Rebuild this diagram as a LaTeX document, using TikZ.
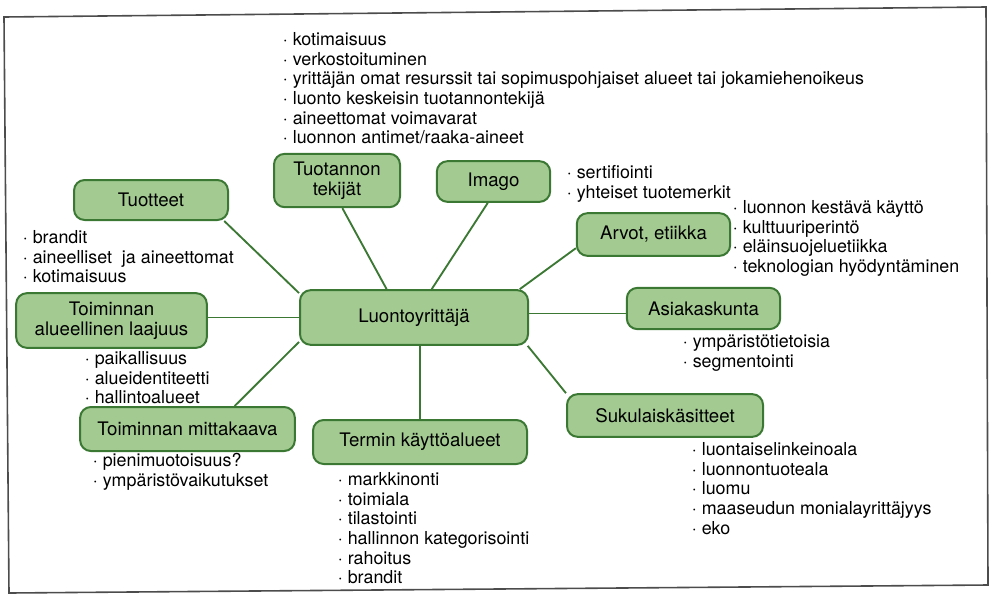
\documentclass[tikz,border=0pt]{standalone}
\usepackage{fontspec}
\setmainfont{TeX Gyre Heros}
\definecolor{leaf}{HTML}{A3CB91}
\definecolor{stem}{HTML}{3B7833}
\begin{document}
\begin{tikzpicture}[x=0.75pt,y=-0.75pt,
        box/.style={draw=stem,line width=1.5pt,fill=leaf,rounded corners=8pt,
            align=center,inner sep=2pt,font=\fontsize{14}{15}\selectfont},
        info/.style={anchor=north west,align=left,inner sep=0pt,
            font=\fontsize{13.4}{14.8}\selectfont},
        link/.style={draw=stem,line width=1.4pt}]
                \useasboundingbox
                    (0,0) rectangle (992,593);
                \draw[line width=1.2pt,black!70]
                    (4,17) -- (986,7) -- (988,585) -- (9,593) -- cycle;
                % the centre and its branches
                \node[box,minimum width=171pt,minimum height=41pt] (luonto)
                    at (414,317.5) {Luontoyrittäjä};
                \node[box,minimum width=115.5pt,minimum height=30pt] (tuotteet)
                    at (151,200) {Tuotteet};
                \node[box,minimum width=94.5pt,minimum height=40pt] (tekijat)
                    at (337,180.5) {Tuotannon\\tekijät};
                \node[box,minimum width=85pt,minimum height=30.5pt] (imago)
                    at (493.5,181.5) {Imago};
                \node[box,minimum width=115pt,minimum height=32pt] (arvot)
                    at (653.5,234.5) {Arvot, etiikka};
                \node[box,minimum width=115pt,minimum height=31pt] (asiakas)
                    at (703.5,308.5) {Asiakaskunta};
                \node[box,minimum width=147pt,minimum height=32pt] (sukulais)
                    at (665,415.5) {Sukulaiskäsitteet};
                \node[box,minimum width=160.5pt,minimum height=33pt] (termin)
                    at (420,442) {Termin käyttöalueet};
                \node[box,minimum width=161pt,minimum height=33pt] (mittakaava)
                    at (187.5,429) {Toiminnan mittakaava};
                \node[box,minimum width=143pt,minimum height=41pt] (laajuus)
                    at (111.5,320.5) {Toiminnan\\alueellinen laajuus};
                % connectors
                \draw[link] (tuotteet.-16) -- (luonto.168);
                \draw[link] (tekijat.-79) -- (luonto.134.5);
                \draw[link] (imago.-105) -- (luonto.58.3);
                \draw[link] (arvot.190) -- (luonto.15);
                \draw[link] (luonto.2.5) -- (luonto.2.5 -| asiakas.west);
                \draw[link] (sukulais.north west) -- (luonto.-14);
                \draw[link] (termin.north |- luonto.south) -- (termin.north);
                \draw[link] (mittakaava.26) -- (luonto.192.3);
                \draw[link] (luonto.west) -- (luonto.west -| laajuus.east);
                % lists
                \node[info] (tekijatlist) at (282.6,32)
                    {· kotimaisuus\\· verkostoituminen\\
                    · yrittäjän omat resurssit tai sopimuspohjaiset alueet tai jokamiehenoikeus\\
                    · luonto keskeisin tuotannontekijä\\· aineettomat voimavarat\\
                    · luonnon antimet/raaka-aineet};
                \node[info] (tuotteetlist) at (22.6,230)
                    {· brandit\\· aineelliset~ ja aineettomat\\· kotimaisuus};
                \node[info] (imagolist) at (566.6,165)
                    {· sertifiointi\\· yhteiset tuotemerkit};
                \node[info] (arvotlist) at (732.6,200)
                    {· luonnon kestävä käyttö\\· kulttuuriperintö\\
                    · eläinsuojeluetiikka\\· teknologian hyödyntäminen};
                \node[info] (asiakaslist) at (682.6,335)
                    {· ympäristötietoisia\\· segmentointi};
                \node[info] (sukulaislist) at (691.6,442)
                    {· luontaiselinkeinoala\\· luonnontuoteala\\· luomu\\
                    · maaseudun monialayrittäjyys\\· eko};
                \node[info] (terminlist) at (337.6,472)
                    {· markkinonti\\· toimiala\\· tilastointi\\
                    · hallinnon kategorisointi\\· rahoitus\\· brandit};
                \node[info] (mittakaavalist) at (92.6,453)
                    {· pienimuotoisuus?\\· ympäristövaikutukset};
                \node[info] (laajuuslist) at (84.6,351)
                    {· paikallisuus\\· alueidentiteetti\\· hallintoalueet};
\end{tikzpicture}
\end{document}
